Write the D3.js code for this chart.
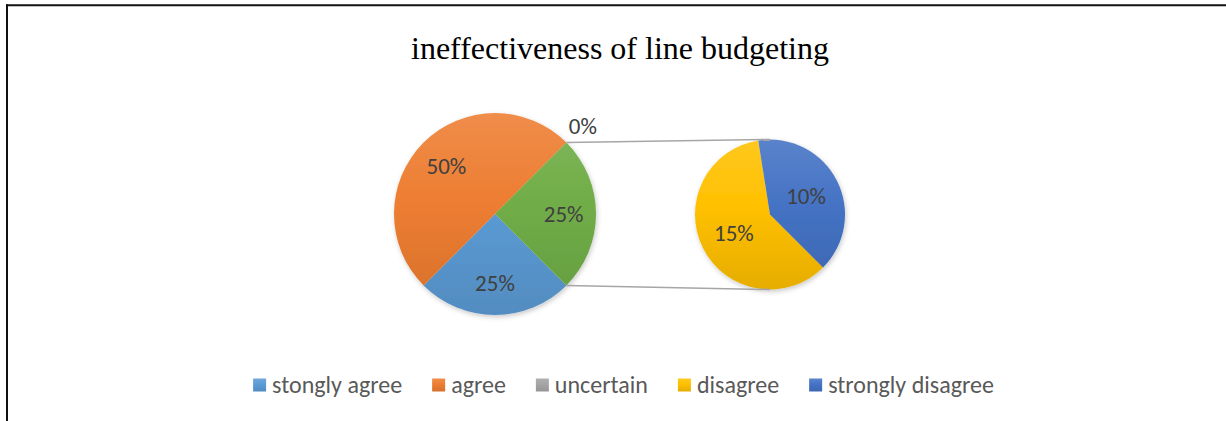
<!DOCTYPE html>
<html>
<head>
<meta charset="utf-8">
<script src="https://cdn.jsdelivr.net/npm/d3@7"></script>
<style>
  html, body { margin: 0; padding: 0; background: #fff; }
  svg { display: block; }
</style>
</head>
<body>
<svg id="chart" width="1226" height="421"></svg>
<script>
// ---- data ----
const title = "ineffectiveness of line budgeting";
const categories = ["stongly agree", "agree", "uncertain", "disagree", "strongly disagree"];
const values = [25, 50, 0, 15, 10];          // percent
const secondaryCount = 2;                    // last N categories go to the second pie
const seriesColors = ["#5B9BD5", "#ED7D31", "#A5A5A5", "#FFC000", "#4472C4"];
const otherColor = "#70AD47";

// ---- layout / style ----
const W = 1226, H = 421;
const FONT = "Carlito, Calibri, Lato, sans-serif";
const main = { cx: 495, cy: 214, r: 101, start: 135, labelR: 0.68, outsideR: 1.23 };
const sec  = { cx: 770, cy: 214.5, r: 75, start: 135, labelR: 0.54 };

const svg = d3.select("#chart");
const defs = svg.append("defs");

// drop shadow
const f = defs.append("filter").attr("id", "shadow")
  .attr("x", "-20%").attr("y", "-20%").attr("width", "140%").attr("height", "140%");
f.append("feDropShadow").attr("dx", 1).attr("dy", 2).attr("stdDeviation", 2.5)
  .attr("flood-color", "#000").attr("flood-opacity", 0.22);

function gradient(id, color, y0, y1) {
  const g = defs.append("linearGradient").attr("id", id)
    .attr("gradientUnits", "userSpaceOnUse")
    .attr("x1", 0).attr("x2", 0).attr("y1", y0).attr("y2", y1);
  g.append("stop").attr("offset", "0%").attr("stop-color", d3.interpolateRgb(color, "#ffffff")(0.12));
  g.append("stop").attr("offset", "45%").attr("stop-color", color);
  g.append("stop").attr("offset", "100%").attr("stop-color", d3.interpolateRgb(color, "#000000")(0.10));
  return `url(#${id})`;
}

// frame (top & left rules)
svg.append("line").attr("x1", 6).attr("x2", W).attr("y1", 5.3).attr("y2", 5.3)
  .attr("stroke", "#111").attr("stroke-width", 2);
svg.append("line").attr("x1", 7).attr("x2", 7).attr("y1", 4.3).attr("y2", H)
  .attr("stroke", "#111").attr("stroke-width", 2);

// title
svg.append("text").attr("x", 620).attr("y", 59).attr("text-anchor", "middle")
  .attr("font-family", "'Liberation Serif', 'Times New Roman', serif")
  .attr("font-size", 32).attr("fill", "#000").text(title);

// ---- data for both pies ----
const nPrimary = categories.length - secondaryCount;
const primaryData = categories.slice(0, nPrimary).map((c, i) => ({ name: c, value: values[i], color: seriesColors[i] }));
const otherValue = d3.sum(values.slice(nPrimary));
primaryData.push({ name: "Other", value: otherValue, color: otherColor, other: true });
const secondaryData = categories.slice(nPrimary).map((c, i) => ({ name: c, value: values[nPrimary + i], color: seriesColors[nPrimary + i] }));

const rad = d => d * Math.PI / 180;

function drawPie(cfg, data, gid) {
  const pie = d3.pie().sort(null).value(d => d.value)
    .startAngle(rad(cfg.start)).endAngle(rad(cfg.start + 360));
  const arcs = pie(data);
  const arc = d3.arc().innerRadius(0).outerRadius(cfg.r);
  const g = svg.append("g").attr("transform", `translate(${cfg.cx},${cfg.cy})`);
  const slices = g.append("g").attr("filter", "url(#shadow)");
  slices.selectAll("path").data(arcs.filter(a => a.endAngle > a.startAngle)).join("path")
    .attr("d", arc)
    .attr("fill", (d, i) => gradient(gid + i, d.data.color, -cfg.r, cfg.r));
  return { arcs, g };
}

const P = drawPie(main, primaryData, "gp");
const S = drawPie(sec, secondaryData, "gs");

// connector lines between "Other" slice edges and the secondary pie top/bottom
const otherArc = P.arcs.find(a => a.data.other);
const pt = (cfg, ang, r) => [cfg.cx + r * Math.sin(ang), cfg.cy - r * Math.cos(ang)];
const pTop = pt(main, otherArc.startAngle, main.r);
const pBot = pt(main, otherArc.endAngle, main.r);
[[pTop, [sec.cx, sec.cy - sec.r]], [pBot, [sec.cx, sec.cy + sec.r]]].forEach(([a, b]) => {
  svg.append("line").attr("x1", a[0]).attr("y1", a[1]).attr("x2", b[0]).attr("y2", b[1])
    .attr("stroke", "#A6A6A6").attr("stroke-width", 1.5);
});

// data labels
function labels(res, cfg) {
  res.arcs.forEach(a => {
    const mid = (a.startAngle + a.endAngle) / 2;
    const zero = a.endAngle - a.startAngle < 1e-6;
    const r = cfg.r * (zero ? cfg.outsideR : cfg.labelR);
    const [x, y] = pt(cfg, mid, r);
    svg.append("text").attr("x", x).attr("y", y).attr("dy", "0.36em")
      .attr("text-anchor", "middle").attr("font-family", FONT).attr("font-size", 23)
      .attr("fill", "#404040").text(a.data.value + "%");
  });
}
labels(P, main);
labels(S, sec);

// legend
const legend = svg.append("g");
const sq = 13, gapText = 6, gapItem = 30;
let x = 0;
categories.forEach((c, i) => {
  const item = legend.append("g").attr("transform", `translate(${x},0)`);
  item.append("rect").attr("x", 0).attr("y", -sq / 2).attr("width", sq).attr("height", sq)
    .attr("fill", gradient("gl" + i, seriesColors[i], -sq / 2, sq / 2));
  const t = item.append("text").attr("x", sq + gapText).attr("y", 0).attr("dy", "0.34em")
    .attr("font-family", FONT).attr("font-size", 24).attr("fill", "#595959").text(c);
  x += sq + gapText + t.node().getComputedTextLength() + gapItem;
});
const legendW = x - gapItem;
legend.attr("transform", `translate(${623.5 - legendW / 2},385)`);
</script>
</body>
</html>
